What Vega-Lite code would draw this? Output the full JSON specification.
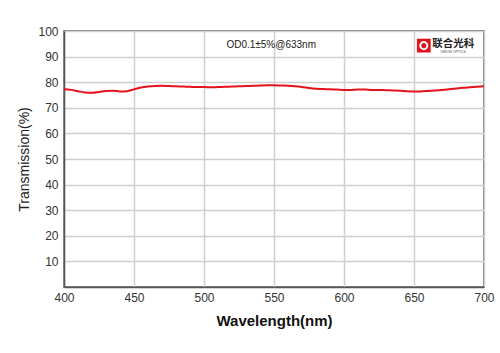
{
  "$schema": "https://vega.github.io/schema/vega-lite/v6.json",
  "autosize": "none",
  "width": 420,
  "height": 256,
  "padding": {"left": 64, "top": 31, "right": 16, "bottom": 66},
  "background": "white",
  "config": {
    "view": {"stroke": "#555555", "strokeWidth": 1.5},
    "font": "Liberation Sans",
    "axis": {"labelOverlap": false}
  },
  "datasets": {
    "curve": [
      {"w":400,"t":77.2},{"w":405,"t":77.0},{"w":410,"t":76.5},{"w":415,"t":76.0},{"w":420,"t":75.9},
      {"w":425,"t":76.2},{"w":430,"t":76.6},{"w":435,"t":76.7},{"w":440,"t":76.4},{"w":445,"t":76.5},
      {"w":450,"t":77.2},{"w":455,"t":77.9},{"w":460,"t":78.3},{"w":465,"t":78.5},{"w":470,"t":78.6},
      {"w":475,"t":78.5},{"w":480,"t":78.4},{"w":485,"t":78.3},{"w":490,"t":78.2},{"w":495,"t":78.1},
      {"w":500,"t":78.1},{"w":505,"t":78.0},{"w":510,"t":78.1},{"w":515,"t":78.2},{"w":520,"t":78.3},
      {"w":525,"t":78.4},{"w":530,"t":78.5},{"w":535,"t":78.6},{"w":540,"t":78.7},{"w":545,"t":78.8},
      {"w":550,"t":78.8},{"w":555,"t":78.7},{"w":560,"t":78.6},{"w":565,"t":78.4},{"w":570,"t":78.1},
      {"w":575,"t":77.7},{"w":580,"t":77.4},{"w":585,"t":77.3},{"w":590,"t":77.2},{"w":595,"t":77.1},
      {"w":600,"t":77.0},{"w":605,"t":77.0},{"w":610,"t":77.1},{"w":615,"t":77.1},{"w":620,"t":77.0},
      {"w":625,"t":77.0},{"w":630,"t":76.9},{"w":635,"t":76.8},{"w":640,"t":76.7},{"w":645,"t":76.5},
      {"w":650,"t":76.4},{"w":655,"t":76.4},{"w":660,"t":76.6},{"w":665,"t":76.8},{"w":670,"t":77.0},
      {"w":675,"t":77.2},{"w":680,"t":77.5},{"w":685,"t":77.8},{"w":690,"t":78.0},{"w":695,"t":78.2},
      {"w":700,"t":78.4}
    ],
    "note": [{"label": "OD0.1±5%@633nm", "x": 548, "y": 94.5}],
    "logo": [{"name": "联合光科", "sub": "UNION OPTICS", "x": 657, "y": 94.3, "tx": 678, "ty": 95.1, "sy": 91.9}]
  },
  "layer": [
    {
      "data": {"name": "curve"},
      "mark": {"type": "line", "color": "#e3121b", "strokeWidth": 2, "interpolate": "monotone"},
      "encoding": {
        "x": {
          "field": "w", "type": "quantitative",
          "scale": {"domain": [400, 700], "nice": false},
          "axis": {
            "values": [400, 450, 500, 550, 600, 650, 700], "tickCount": 20,
            "title": "Wavelength(nm)", "titleFontSize": 15, "titleFontWeight": "bold",
            "titleColor": "#111", "titlePadding": 10,
            "labelFontSize": 12, "labelColor": "#333", "labelPadding": 5, "ticks": false,
            "domainColor": "#555", "domainWidth": 1.5, "labelOverlap": false,
            "gridColor": "#cfcfcf", "gridWidth": 1.5, "labelFlush": false
          }
        },
        "y": {
          "field": "t", "type": "quantitative",
          "scale": {"domain": [0, 100], "nice": false},
          "axis": {
            "values": [10, 20, 30, 40, 50, 60, 70, 80, 90, 100], "tickCount": 20,
            "title": "Transmission(%)", "titleFontSize": 14, "titleFontWeight": "normal",
            "titleColor": "#222", "titlePadding": 6,
            "labelFontSize": 12, "labelColor": "#333", "labelPadding": 6, "ticks": false,
            "labelOverlap": false, "labelFlush": false,
            "domainColor": "#555", "domainWidth": 1.5,
            "gridColor": "#cfcfcf", "gridWidth": 1.5
          }
        }
      }
    },
    {
      "data": {"name": "note"},
      "mark": {"type": "text", "fontSize": 10, "color": "#222", "align": "center", "baseline": "middle"},
      "encoding": {
        "x": {"field": "x", "type": "quantitative"},
        "y": {"field": "y", "type": "quantitative"},
        "text": {"field": "label"}
      }
    },
    {
      "data": {"name": "logo"},
      "mark": {"type": "square", "filled": true, "color": "#e0141c", "size": 190, "opacity": 1, "cornerRadius": 3},
      "encoding": {
        "x": {"field": "x", "type": "quantitative"},
        "y": {"field": "y", "type": "quantitative"}
      }
    },
    {
      "data": {"name": "logo"},
      "mark": {"type": "point", "shape": "circle", "filled": false, "color": "white", "size": 50, "strokeWidth": 2, "opacity": 1},
      "encoding": {
        "x": {"field": "x", "type": "quantitative"},
        "y": {"field": "y", "type": "quantitative"}
      }
    },
    {
      "data": {"name": "logo"},
      "mark": {"type": "text", "font": "Noto Sans CJK SC", "fontSize": 10.5, "fontWeight": "bold", "color": "#222", "align": "center", "baseline": "middle"},
      "encoding": {
        "x": {"field": "tx", "type": "quantitative"},
        "y": {"field": "ty", "type": "quantitative"},
        "text": {"field": "name"}
      }
    },
    {
      "data": {"name": "logo"},
      "mark": {"type": "text", "fontSize": 3.5, "color": "#444", "align": "center", "baseline": "middle"},
      "encoding": {
        "x": {"field": "tx", "type": "quantitative"},
        "y": {"field": "sy", "type": "quantitative"},
        "text": {"field": "sub"}
      }
    }
  ]
}
